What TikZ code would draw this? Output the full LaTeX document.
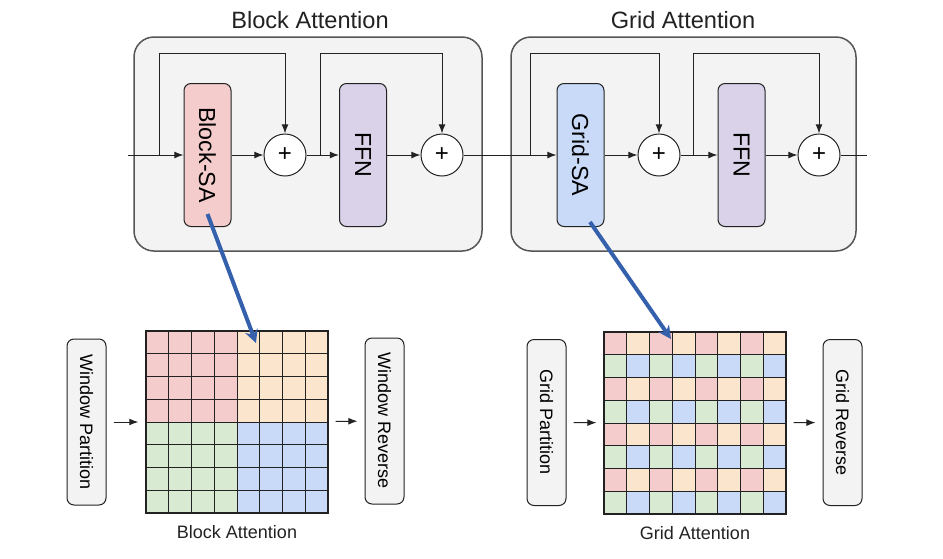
\documentclass[tikz,border=0pt]{standalone}
\usepackage{fontspec}
\setmainfont{Liberation Sans}
\usepackage{tikz}
\usepackage{xcolor}
\usetikzlibrary{arrows.meta,positioning,calc}
\definecolor{ink}{HTML}{222222}
\definecolor{framegray}{HTML}{555555}
\definecolor{framebg}{HTML}{F3F3F3}
\definecolor{cell0}{HTML}{F4CCCC}
\definecolor{cell1}{HTML}{FCE5CD}
\definecolor{cell2}{HTML}{D9EAD3}
\definecolor{cell3}{HTML}{C9DAF8}
\definecolor{lavender}{HTML}{D9D2E9}
\definecolor{arrowblue}{HTML}{3560AC}
\tikzset{
  frame/.style={draw=framegray,fill=framebg,line width=0.75pt,rounded corners=10pt,
                minimum width=#1,minimum height=107pt,inner sep=0pt},
  title/.style={font=\fontsize{11.8}{13}\selectfont,text=ink},
  layer/.style={draw=ink,fill=#1,line width=0.5pt,rounded corners=3.5pt,
                minimum width=23.5pt,minimum height=71.5pt,inner sep=0pt,
                font=\fontsize{11.6}{13}\selectfont},
  sumnode/.style={circle,draw=ink,fill=white,line width=0.5pt,minimum size=21pt,
                  inner sep=0pt,font=\fontsize{12}{13}\selectfont},
  sidebox/.style={draw=ink,fill=framebg,line width=0.5pt,rounded corners=3.5pt,
                  minimum width=19.5pt,minimum height=83pt,inner sep=0pt,
                  font=\fontsize{9}{10}\selectfont},
  gridbox/.style={draw=ink,line width=0.6pt,minimum size=91pt,inner sep=0pt},
  caption/.style={font=\fontsize{9}{10}\selectfont,text=ink},
  line/.style={draw=ink,line width=0.5pt},
  arr/.style={-{Latex[length=1.6mm,width=1.2mm]},line width=0.5pt,draw=ink},
  sidearr/.style={arr,shorten <=3.5pt,shorten >=3.5pt},
  bluearr/.style={-{Stealth[length=2.3mm,width=2.3mm]},line width=2pt,
                  draw=arrowblue}
}

\begin{document}
\begin{tikzpicture}[x=0.5pt,y=-0.5pt]
    \path[use as bounding box] (0,0) rectangle (943,558);

    % two attention stages
    \node[frame=174pt] (blockframe) at (308,144) {};
    \node[frame=172.5pt] (gridframe) at (683.5,144) {};
    \node[title] (blocktitle) at (310,20) {Block Attention};
    \node[title] (gridtitle) at (683,20) {Grid Attention};

    \node[layer=cell0] (bsa) at (207.5,155) {\rotatebox{-90}{Block-SA}};
    \node[sumnode] (sum1) at (285,155) {+};
    \node[layer=lavender] (ffn1) at (363,155) {\rotatebox{-90}{FFN}};
    \node[sumnode] (sum2) at (442,155) {+};
    \node[layer=cell3] (gsa) at (580.5,155) {\rotatebox{-90}{Grid-SA}};
    \node[sumnode] (sum3) at (659,155) {+};
    \node[layer=lavender] (ffn2) at (741.5,155) {\rotatebox{-90}{FFN}};
    \node[sumnode] (sum4) at (819,155) {+};

    \coordinate (in) at (128,155);
    \coordinate (skip1) at (159,155);
    \coordinate (skip2) at (320,155);
    \coordinate (skip3) at (530,155);
    \coordinate (skip4) at (693,155);
    \coordinate (out) at (867,155);

    \draw[line] (in) -- (skip1);
    \draw[arr] (skip1) -- (bsa);
    \draw[arr] (bsa) -- (sum1);
    \draw[line] (sum1) -- (skip2);
    \draw[arr] (skip2) -- (ffn1);
    \draw[arr] (ffn1) -- (sum2);
    \draw[line] (sum2) -- (skip3);
    \draw[arr] (skip3) -- (gsa);
    \draw[arr] (gsa) -- (sum3);
    \draw[line] (sum3) -- (skip4);
    \draw[arr] (skip4) -- (ffn2);
    \draw[arr] (ffn2) -- (sum4);
    \draw[line] (sum4) -- (out);

    % residual paths
    \draw[arr] (skip1) -- ++(0,-102) -| (sum1);
    \draw[arr] (skip2) -- ++(0,-102) -| (sum2);
    \draw[arr] (skip3) -- ++(0,-102) -| (sum3);
    \draw[arr] (skip4) -- ++(0,-102) -| (sum4);

    % block partition
    \node[sidebox] (wpart) at (86.5,422) {\rotatebox{-90}{Window Partition}};
    \foreach \r in {0,...,7}
      \foreach \c in {0,...,7} {
        \pgfmathsetmacro\k{int(2*int(\r/4)+int(\c/4))}
        \draw[draw=ink,line width=0.5pt,fill=cell\k]
          (146+\c*22.75,331+\r*22.75) rectangle ++(22.75,22.75);
      }
    \node[gridbox] (blockgrid) at (237,422) {};
    \node[sidebox] (wrev) at (384.5,421) {\rotatebox{-90}{Window Reverse}};
    \node[caption] (blockcap) at (237,532) {Block Attention};
    \draw[sidearr] (wpart) -- (blockgrid);
    \draw[sidearr] (blockgrid) -- (wrev);

    % grid partition
    \node[sidebox] (gpart) at (546.5,422.5) {\rotatebox{-90}{Grid Partition}};
    \foreach \r in {0,...,7}
      \foreach \c in {0,...,7} {
        \pgfmathsetmacro\k{int(2*mod(\r,2)+mod(\c,2))}
        \draw[draw=ink,line width=0.5pt,fill=cell\k]
          (604+\c*22.75,332+\r*22.75) rectangle ++(22.75,22.75);
      }
    \node[gridbox] (gridgrid) at (695,423) {};
    \node[sidebox] (grev) at (842.5,422.5) {\rotatebox{-90}{Grid Reverse}};
    \node[caption] (gridcap) at (695,533) {Grid Attention};
    \draw[sidearr] (gpart) -- (gridgrid);
    \draw[sidearr] (gridgrid) -- (grev);

    % links to the token layouts
    \coordinate (blocktip) at (256,343);
    \coordinate (gridtip) at (671,339);
    \draw[bluearr] ([yshift=6.5pt]bsa.south) -- (blocktip);
    \draw[bluearr] ([xshift=4.75pt,yshift=2.5pt]gsa.south) -- (gridtip);
  \end{tikzpicture}
\end{document}
